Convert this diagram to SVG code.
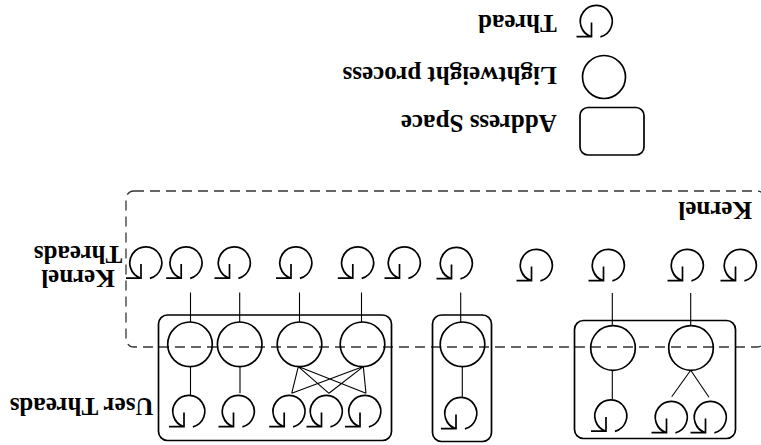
<svg xmlns="http://www.w3.org/2000/svg" xmlns:xlink="http://www.w3.org/1999/xlink" width="761" height="445" viewBox="0 0 761 445">
<style>
.s{fill:none;stroke:#000;stroke-width:1.7}
.c{fill:none;stroke:#000;stroke-width:1.1}
.k{fill:none;stroke:#333;stroke-width:1.3;stroke-dasharray:10 6}
text{font-family:"Liberation Serif","Times New Roman",serif;font-weight:bold;font-size:25px;fill:#000}
</style>
<defs>
<g id="thr"><path class="s" d="M1.4 15.9A16 16 0 1 0 -7.5 15.7M-7.5 1.5V15.7H-22.5"/></g>
</defs>
<rect fill="#fff" width="761" height="445"/>
<g id="legend">
<g id="legend-thread"><use xlink:href="#thr" href="#thr" x="599" y="21"/><text x="556.7" y="15" transform="rotate(180 556.7 15)">Thread</text></g>
<g id="legend-lwp"><circle class="s" cx="604" cy="77" r="21.5"/><text x="556.7" y="66.7" transform="rotate(180 556.7 66.7)">Lightweight process</text></g>
<g id="legend-as"><rect class="s" x="580" y="107.5" width="64" height="47.5" rx="8"/><text x="556.7" y="115" transform="rotate(180 556.7 115)">Address Space</text></g>
</g>
<g id="kernel">
<rect class="k" x="126" y="191" width="639" height="156" rx="8"/>
<text x="752" y="202" transform="rotate(180 752 202)">Kernel</text>
</g>
<g id="labels">
<text text-anchor="middle" x="78" y="269.5" transform="rotate(180 78 269.5)">Kernel</text>
<text text-anchor="middle" x="78" y="245.7" transform="rotate(180 78 245.7)">Threads</text>
<text x="153.5" y="398" transform="rotate(180 153.5 398)">User Threads</text>
</g>
<g id="address-spaces">
<rect id="as1" class="s" x="158.5" y="315" width="233" height="125.5" rx="9"/>
<rect id="as2" class="s" x="432.5" y="315" width="59" height="126.5" rx="9"/>
<rect id="as3" class="s" x="574.5" y="320.5" width="161" height="118" rx="9"/>
</g>
<g id="kernel-threads">
<use href="#thr" xlink:href="#thr" x="148.5" y="262.5"/>
<use href="#thr" xlink:href="#thr" x="188.7" y="262.5"/>
<use href="#thr" xlink:href="#thr" x="237" y="262.5"/>
<use href="#thr" xlink:href="#thr" x="298.5" y="262.5"/>
<use href="#thr" xlink:href="#thr" x="360.3" y="262.5"/>
<use href="#thr" xlink:href="#thr" x="407" y="262.5"/>
<use href="#thr" xlink:href="#thr" x="459" y="263"/>
<use href="#thr" xlink:href="#thr" x="539" y="265"/>
<use href="#thr" xlink:href="#thr" x="611" y="265"/>
<use href="#thr" xlink:href="#thr" x="690" y="265"/>
<use href="#thr" xlink:href="#thr" x="743" y="265"/>
</g>
<g id="lwps">
<circle class="s" cx="190" cy="344.3" r="22.3"/>
<circle class="s" cx="239.7" cy="344.3" r="22.3"/>
<circle class="s" cx="299.5" cy="344.3" r="22.3"/>
<circle class="s" cx="362.5" cy="344.3" r="22.3"/>
<circle class="s" cx="462.5" cy="344.3" r="22.3"/>
<circle class="s" cx="613" cy="348" r="22.3"/>
<circle class="s" cx="691" cy="348" r="22.3"/>
</g>
<g id="user-threads">
<use href="#thr" xlink:href="#thr" x="191.5" y="411"/>
<use href="#thr" xlink:href="#thr" x="241" y="411"/>
<use href="#thr" xlink:href="#thr" x="291.7" y="411"/>
<use href="#thr" xlink:href="#thr" x="329" y="411"/>
<use href="#thr" xlink:href="#thr" x="367.5" y="411"/>
<use href="#thr" xlink:href="#thr" x="463.5" y="413"/>
<use href="#thr" xlink:href="#thr" x="613.5" y="415.5"/>
<use href="#thr" xlink:href="#thr" x="674" y="417"/>
<use href="#thr" xlink:href="#thr" x="713" y="417"/>
</g>
<g id="connectors">
<path class="c" d="M190.5 292.5V322M239.7 292.5V322M299.5 292.5V322M361.5 292.5V322M460.7 292.5V322M612.3 293V325.7M690.7 293V325.7"/>
<path class="c" d="M190.5 366.6V395M240 366.6V393.3M462.3 366.6V397.3M612.3 370.3V399"/>
<path class="c" d="M298.3 366.6L291.7 393.3M298.3 366.6L329 393.3M298.3 366.6L366 393.3M363.3 366.6L291.7 393.3M363.3 366.6L329 393.3M363.3 366.6L366 393.3"/>
<path class="c" d="M690.7 370.3L671.7 396.7M690.7 370.3L709 397.3"/>
</g>
</svg>
